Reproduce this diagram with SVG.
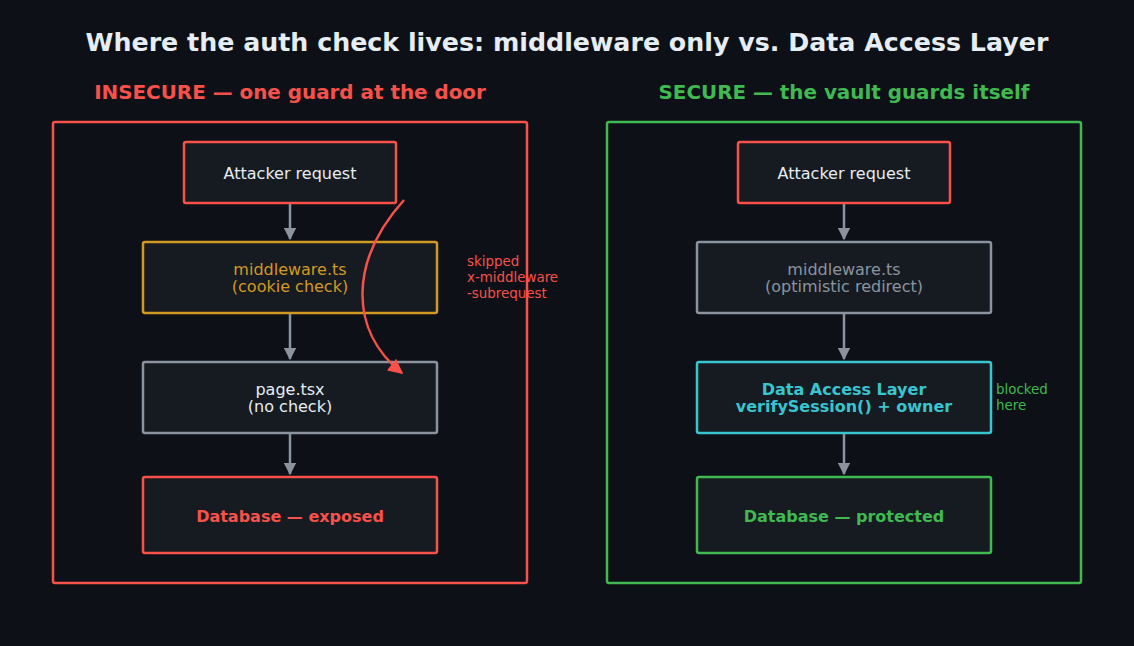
<svg xmlns="http://www.w3.org/2000/svg" width="1134" height="646" viewBox="0 0 1134 646">
<defs>
<style>
text{font-family:"DejaVu Sans","Liberation Sans",sans-serif;text-anchor:middle}
.title{font-size:25.3px;font-weight:bold;fill:#e6edf3}
.sub{font-size:19.9px;font-weight:bold}
.node{fill:#161b22;stroke-width:2.5}
.lbl{font-size:16px;fill:#e6edf3}
.side{font-size:13.4px;text-anchor:start}
.conn{stroke:#8b949e;stroke-width:2.5;fill:none;marker-end:url(#ah)}
</style>
<marker id="ah" viewBox="0 0 10 10" refX="9" refY="5" markerWidth="5" markerHeight="5" orient="auto" markerUnits="strokeWidth">
<path d="M0,0 L10,5 L0,10 z" fill="#8b949e"/>
</marker>
<marker id="ahr" viewBox="0 0 10 10" refX="9" refY="5" markerWidth="6" markerHeight="6" orient="auto" markerUnits="strokeWidth">
<path d="M0,0 L10,5 L0,10 z" fill="#f85149"/>
</marker>
</defs>
<rect width="1134" height="646" fill="#0d1017"/>
<text class="title" x="567" y="51">Where the auth check lives: middleware only vs. Data Access Layer</text>
<text class="sub" x="290" y="99" fill="#f85149">INSECURE — one guard at the door</text>
<text class="sub" x="844" y="99" fill="#3fb950">SECURE — the vault guards itself</text>

<g id="panel-left"><rect x="53" y="122" width="474" height="461" rx="2" fill="none" stroke="#f85149" stroke-width="2.5"/></g>
<g id="panel-right"><rect x="607" y="122" width="474" height="461" rx="2" fill="none" stroke="#3fb950" stroke-width="2.5"/></g>

<g id="l-attacker"><rect class="node" x="184" y="142" width="212" height="61" rx="2" stroke="#f85149"/><text class="lbl" x="290" y="179">Attacker request</text></g>
<g id="l-middleware"><rect class="node" x="143" y="242" width="294" height="71" rx="2" stroke="#d29922"/><text class="lbl" x="290" y="275" style="fill:#d29922">middleware.ts</text><text class="lbl" x="290" y="292" style="fill:#d29922">(cookie check)</text></g>
<g id="l-page"><rect class="node" x="143" y="362" width="294" height="71" rx="2" stroke="#8b949e"/><text class="lbl" x="290" y="395">page.tsx</text><text class="lbl" x="290" y="412">(no check)</text></g>
<g id="l-db"><rect class="node" x="143" y="477" width="294" height="76" rx="2" stroke="#f85149"/><text class="lbl" x="290" y="522" style="fill:#f85149;font-weight:bold">Database — exposed</text></g>
<g id="l-note"><text class="side" x="467" y="266" fill="#f85149">skipped</text><text class="side" x="467" y="282" fill="#f85149">x-middleware</text><text class="side" x="467" y="298" fill="#f85149">-subrequest</text></g>

<g id="r-attacker"><rect class="node" x="738" y="142" width="212" height="61" rx="2" stroke="#f85149"/><text class="lbl" x="844" y="179">Attacker request</text></g>
<g id="r-middleware"><rect class="node" x="697" y="242" width="294" height="71" rx="2" stroke="#8b949e"/><text class="lbl" x="844" y="275" style="fill:#8b949e">middleware.ts</text><text class="lbl" x="844" y="292" style="fill:#8b949e">(optimistic redirect)</text></g>
<g id="r-dal"><rect class="node" x="697" y="362" width="294" height="71" rx="2" stroke="#39c5cf"/><text class="lbl" x="844" y="395" style="fill:#39c5cf;font-weight:bold">Data Access Layer</text><text class="lbl" x="844" y="412" style="fill:#39c5cf;font-weight:bold">verifySession() + owner</text></g>
<g id="r-db"><rect class="node" x="697" y="477" width="294" height="76" rx="2" stroke="#3fb950"/><text class="lbl" x="844" y="522" style="fill:#3fb950;font-weight:bold">Database — protected</text></g>
<g id="r-note"><text class="side" x="996" y="394" fill="#3fb950">blocked</text><text class="side" x="996" y="410" fill="#3fb950">here</text></g>

<g id="connectors">
<line class="conn" x1="290" y1="204" x2="290" y2="239"/>
<line class="conn" x1="290" y1="314" x2="290" y2="359"/>
<line class="conn" x1="290" y1="434" x2="290" y2="474"/>
<line class="conn" x1="844" y1="204" x2="844" y2="239"/>
<line class="conn" x1="844" y1="314" x2="844" y2="359"/>
<line class="conn" x1="844" y1="434" x2="844" y2="474"/>
<path d="M404,200 C350,260 348,330 402,373" fill="none" stroke="#f85149" stroke-width="2.5" marker-end="url(#ahr)"/>
</g>
</svg>
